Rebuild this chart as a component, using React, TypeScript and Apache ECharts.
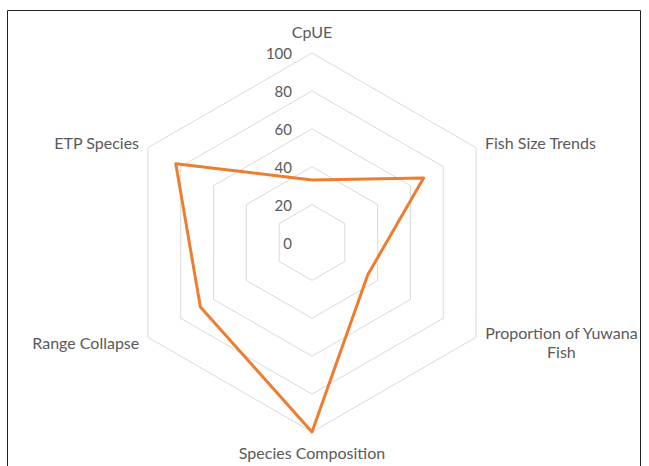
import React, { useEffect, useRef } from "react";
import * as echarts from "echarts";

// Indicators listed in ECharts' (counter-clockwise) drawing order, starting at the top.
const indicators = [
  "CpUE",
  "ETP Species",
  "Range Collapse",
  "Species Composition",
  "Proportion of Yuwana\nFish",
  "Fish Size Trends",
];
const values = [33, 83, 68, 100, 34, 68];
const maxValue = 100;
const nameGaps = [12, 10, 10, 11, 10, 10];

const FONT = "Lato";
const TEXT_COLOR = "#595959";
const FONT_SIZE = 16;

export default function App() {
  const ref = useRef<HTMLDivElement>(null);
  useEffect(() => {
    const chart = echarts.init(ref.current!, null, { renderer: "svg" });
    chart.setOption({
      animation: false,
      backgroundColor: "#ffffff",
      textStyle: { fontFamily: FONT },
      graphic: [
        {
          type: "rect",
          shape: { x: 7.5, y: 10.5, width: 633, height: 500 },
          style: { fill: "none", stroke: "#222", lineWidth: 1 },
          silent: true,
        },
      ],
      radar: {
        center: [312, 242.5],
        radius: 189.5,
        startAngle: 90,
        splitNumber: 5,
        shape: "polygon",
        nameGap: 10,
        axisName: {
          color: TEXT_COLOR,
          fontSize: FONT_SIZE,
          fontFamily: FONT,
          formatter: (name: string) =>
            name
              .split("\n")
              .map((l) => `{c|${l}}`)
              .join("\n"),
          rich: {
            c: {
              align: "center",
              color: TEXT_COLOR,
              fontSize: FONT_SIZE,
              fontFamily: FONT,
              lineHeight: 19,
            },
          },
        },
        indicator: indicators.map((n, i) => ({
          name: n,
          min: 0,
          max: maxValue,
          nameGap: nameGaps[i],
          axisLabel: i === 0 ? { show: true } : { show: false },
        })),
        axisLabel: {
          show: false,
          color: TEXT_COLOR,
          fontSize: 15,
          fontFamily: FONT,
          margin: 20,
        },
        axisLine: { show: false },
        axisTick: { show: false },
        splitLine: { lineStyle: { color: "#d9d9d9", width: 1 } },
        splitArea: { show: false },
      },
      series: [
        {
          type: "radar",
          symbol: "none",
          lineStyle: { color: "#ED7D31", width: 3 },
          data: [{ value: values }],
        },
      ],
    });
    return () => chart.dispose();
  }, []);
  return (
    <div
      ref={ref}
      style={{ position: "absolute", left: 0, top: 0, width: 649, height: 466 }}
    />
  );
}
